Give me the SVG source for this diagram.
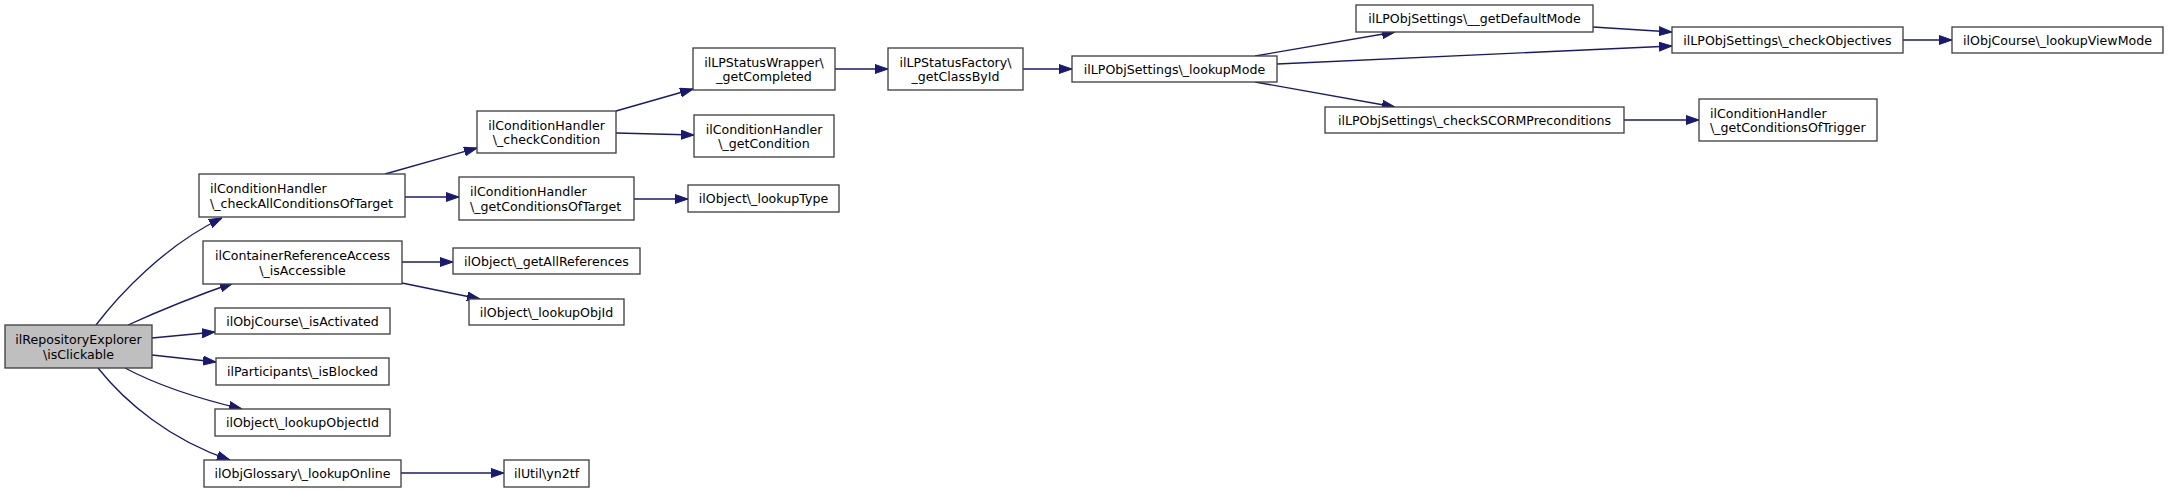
<svg xmlns="http://www.w3.org/2000/svg" width="2168" height="492" viewBox="0 0 2168 492">
<style>
.n rect{fill:#ffffff;stroke:#404040;stroke-width:1.33}
.n.root rect{fill:#bfbfbf}
.n text{font-family:"DejaVu Sans",sans-serif;font-size:12.6px;fill:#000000}
.m{text-anchor:middle}
.e path{fill:none;stroke:#191970;stroke-width:1.33;marker-end:url(#arr)}
</style>
<defs>
<marker id="arr" viewBox="0 0 13 10" refX="13" refY="5" markerWidth="13" markerHeight="10" markerUnits="userSpaceOnUse" orient="auto">
<path d="M0,0.5 L13,5 L0,9.5 z" fill="#191970" stroke="#191970" stroke-width="1"/>
</marker>
</defs>
<rect x="0" y="0" width="2168" height="492" fill="#ffffff"/>
<g id="edges" class="e">
<path d="M96,325 C118,296 165,245 222,218"/>
<path d="M128,325 C150,315 190,298 233,283"/>
<path d="M152,338 L215,332"/>
<path d="M152,355 L216,362"/>
<path d="M125,368 C155,384 200,399 242,409"/>
<path d="M98,368 C125,402 170,440 230,460"/>
<path d="M385,174 C410,167 445,157 477,148"/>
<path d="M405,197 L459,197"/>
<path d="M402,262 L453,262"/>
<path d="M402,283 L480,299"/>
<path d="M401,473 L504,473"/>
<path d="M616,111 L693,89"/>
<path d="M616,133 L694,135"/>
<path d="M634,199 L688,199"/>
<path d="M835,69 L888,69"/>
<path d="M1023,69 L1072,69"/>
<path d="M1255,56 L1395,32"/>
<path d="M1277,64 L1672,46"/>
<path d="M1255,82 L1395,107"/>
<path d="M1593,27 L1672,32"/>
<path d="M1903,40 L1952,40"/>
<path d="M1624,120 L1699,120"/>
</g>
<g id="root" class="n root"><rect x="5" y="325" width="147" height="43"/><text class="m" x="78.5" y="344">ilRepositoryExplorer</text><text class="m" x="78.5" y="359">\isClickable</text></g>
<g id="checkAllConditionsOfTarget" class="n"><rect x="199" y="174" width="206" height="43"/><text x="210" y="193">ilConditionHandler</text><text x="210" y="208">\_checkAllConditionsOfTarget</text></g>
<g id="isAccessible" class="n"><rect x="203" y="241" width="199" height="43"/><text class="m" x="302.5" y="260">ilContainerReferenceAccess</text><text class="m" x="302.5" y="275">\_isAccessible</text></g>
<g id="isActivated" class="n"><rect x="215" y="308" width="175" height="26"/><text class="m" x="302.5" y="326">ilObjCourse\_isActivated</text></g>
<g id="isBlocked" class="n"><rect x="216" y="358" width="173" height="27"/><text class="m" x="302.5" y="376">ilParticipants\_isBlocked</text></g>
<g id="lookupObjectId" class="n"><rect x="215" y="409" width="175" height="27"/><text class="m" x="302.5" y="427">ilObject\_lookupObjectId</text></g>
<g id="lookupOnline" class="n"><rect x="204" y="460" width="197" height="27"/><text class="m" x="302.5" y="478">ilObjGlossary\_lookupOnline</text></g>
<g id="checkCondition" class="n"><rect x="477" y="111" width="139" height="42"/><text class="m" x="546.5" y="129.5">ilConditionHandler</text><text class="m" x="546.5" y="144">\_checkCondition</text></g>
<g id="getConditionsOfTarget" class="n"><rect x="459" y="177" width="175" height="43"/><text x="470" y="196">ilConditionHandler</text><text x="470" y="211">\_getConditionsOfTarget</text></g>
<g id="getAllReferences" class="n"><rect x="453" y="248" width="187" height="26"/><text class="m" x="546.5" y="266">ilObject\_getAllReferences</text></g>
<g id="lookupObjId" class="n"><rect x="469" y="299" width="155" height="26"/><text class="m" x="546.5" y="317">ilObject\_lookupObjId</text></g>
<g id="yn2tf" class="n"><rect x="504" y="460" width="85" height="27"/><text class="m" x="546.5" y="478">ilUtil\yn2tf</text></g>
<g id="getCompleted" class="n"><rect x="693" y="48" width="142" height="42"/><text class="m" x="764" y="66.5">ilLPStatusWrapper\</text><text class="m" x="764" y="81">_getCompleted</text></g>
<g id="getCondition" class="n"><rect x="694" y="115" width="140" height="42"/><text class="m" x="764" y="133.5">ilConditionHandler</text><text class="m" x="764" y="148">\_getCondition</text></g>
<g id="lookupType" class="n"><rect x="688" y="185" width="151" height="27"/><text class="m" x="763.5" y="203">ilObject\_lookupType</text></g>
<g id="getClassById" class="n"><rect x="888" y="48" width="135" height="42"/><text class="m" x="955.5" y="66.5">ilLPStatusFactory\</text><text class="m" x="955.5" y="81">_getClassById</text></g>
<g id="lookupMode" class="n"><rect x="1072" y="56" width="205" height="26"/><text class="m" x="1174.5" y="74">ilLPObjSettings\_lookupMode</text></g>
<g id="getDefaultMode" class="n"><rect x="1356" y="5" width="237" height="27"/><text class="m" x="1474.5" y="23">ilLPObjSettings\__getDefaultMode</text></g>
<g id="checkObjectives" class="n"><rect x="1672" y="27" width="231" height="26"/><text class="m" x="1787.5" y="45">ilLPObjSettings\_checkObjectives</text></g>
<g id="checkSCORMPreconditions" class="n"><rect x="1325" y="107" width="299" height="26"/><text class="m" x="1474.5" y="125">ilLPObjSettings\_checkSCORMPreconditions</text></g>
<g id="getConditionsOfTrigger" class="n"><rect x="1699" y="99" width="178" height="42"/><text x="1710" y="117.5">ilConditionHandler</text><text x="1710" y="132">\_getConditionsOfTrigger</text></g>
<g id="lookupViewMode" class="n"><rect x="1952" y="27" width="211" height="26"/><text class="m" x="2057.5" y="45">ilObjCourse\_lookupViewMode</text></g>
</svg>
